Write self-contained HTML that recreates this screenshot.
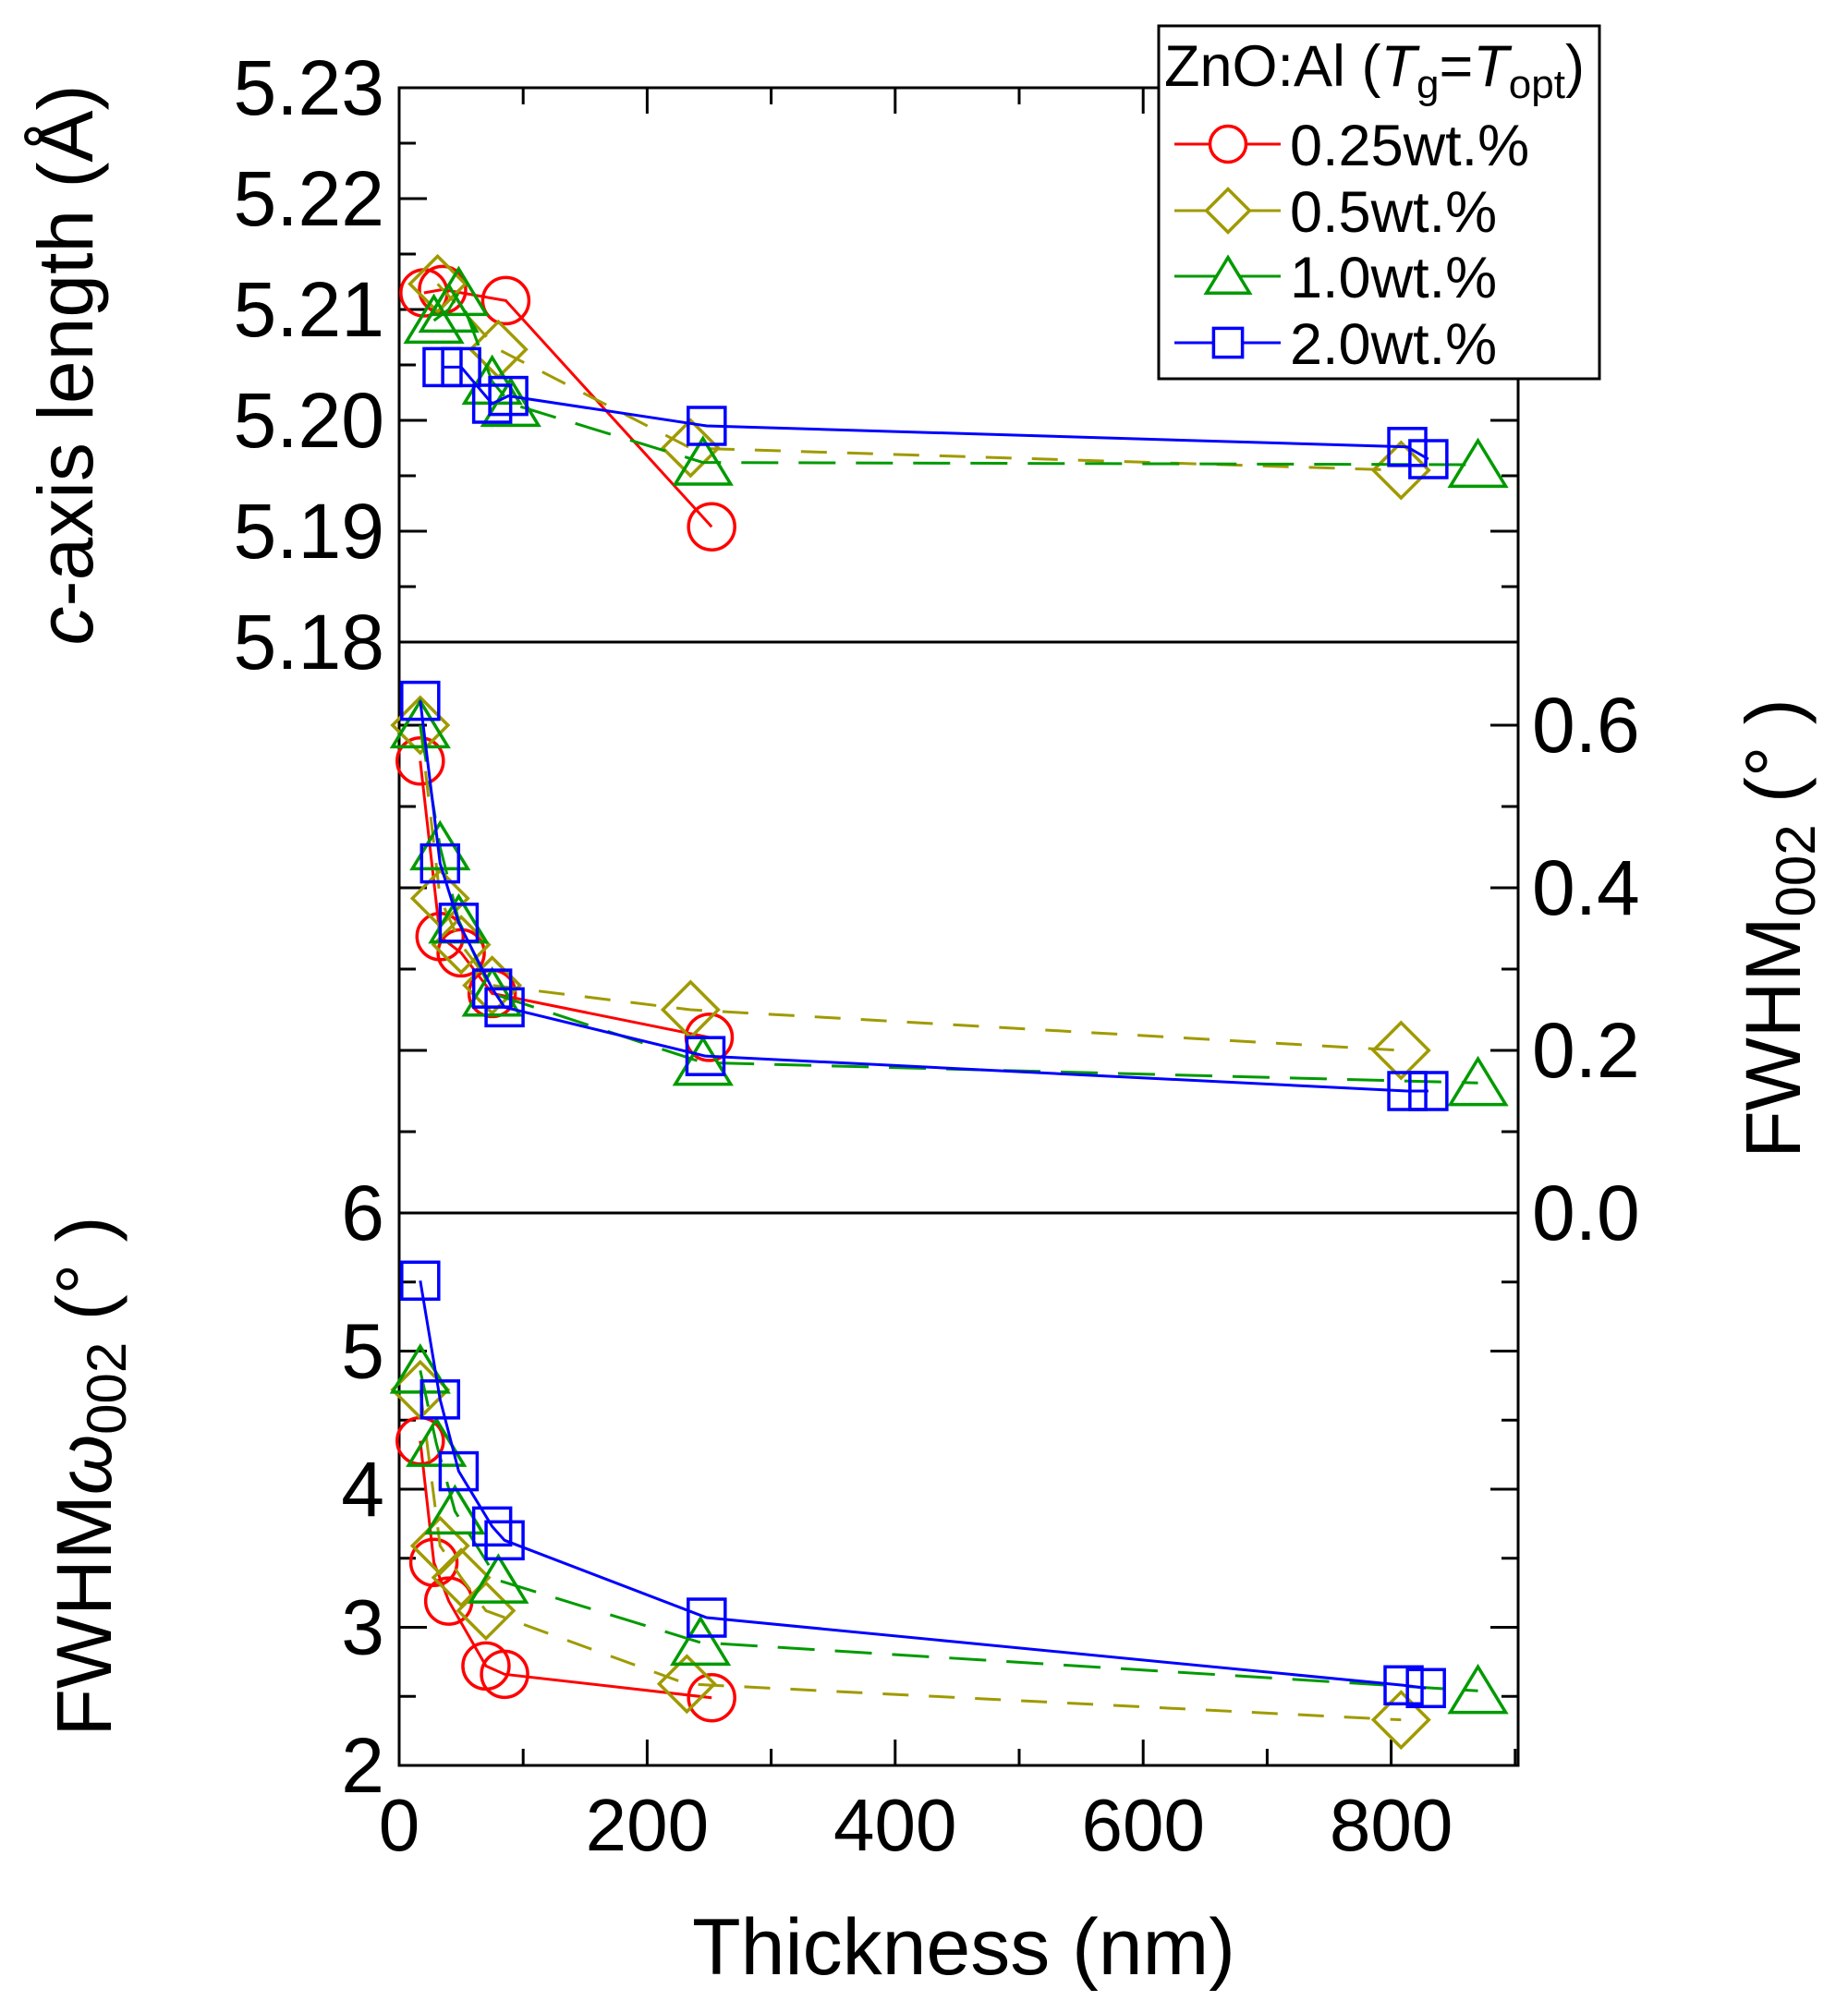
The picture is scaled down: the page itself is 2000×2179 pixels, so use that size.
<!DOCTYPE html>
<html><head><meta charset="utf-8"><style>
html,body{margin:0;padding:0;background:#fff;}
svg{display:block;font-family:"Liberation Sans",Arial,sans-serif;}
</style></head><body>
<svg id="chart" width="2000" height="2179" viewBox="0 0 2000 2179" xmlns="http://www.w3.org/2000/svg">
<g id="axes"></g>
<g id="series"></g>
<g id="legend">
<rect x="1254" y="28" width="477" height="382" fill="#fff" stroke="#000" stroke-width="3"/>
<text x="1260" y="93" font-size="63">ZnO:Al (<tspan font-style="italic">T</tspan><tspan font-size="44" dy="13">g</tspan><tspan dy="-13">=</tspan><tspan font-style="italic">T</tspan><tspan font-size="44" dy="13">opt</tspan><tspan dy="-13">)</tspan></text>
</g>
</svg>
<script>
const xThick = {
  r:[20,35,86,252],
  o:[31,80,235,808],
  g:[28,40,48,75,90,245,870],
  b:[35,50,75,88,248,813,830]
};
const cAxisRed=[5.2115,5.2118,5.2108,5.1904];
const cAxisOlive=[5.2123,5.2064,5.1975,5.1955];
const cAxisGreen=[5.2090,5.2100,5.2115,5.2035,5.2015,5.1962,5.1960];
const cAxisBlue=[5.2048,5.2048,5.2015,5.2022,5.1995,5.1976,5.1965];

const midXRed=[17,33,50,75,250];
const midRed=[0.556,0.34,0.32,0.27,0.216];
const midXOlive=[17,33,50,75,235,808];
const midOlive=[0.60,0.387,0.33,0.28,0.25,0.20];
const midXGreen=[17,33,48,75,245,870];
const midGreen=[0.60,0.45,0.36,0.27,0.185,0.16];
const midXBlue=[17,33,48,75,85,247,813,830];
const midBlue=[0.63,0.43,0.357,0.276,0.253,0.193,0.15,0.15];

const botXRed=[17,28,40,70,85,252];
const botRed=[4.35,3.47,3.19,2.72,2.66,2.49];
const botXOlive=[17,33,50,70,232,808];
const botOlive=[4.72,3.59,3.36,3.12,2.59,2.33];
const botXGreen=[17,30,45,80,243,870];
const botGreen=[4.86,4.33,3.84,3.34,2.89,2.54];
const botXBlue=[17,33,48,75,85,248,810,828];
const botBlue=[5.51,4.65,4.13,3.73,3.63,3.07,2.58,2.56];

const xTicks=[0,200,400,600,800];
const topTicks=["5.18","5.19","5.20","5.21","5.22","5.23"];
const midTicks=["0.0","0.2","0.4","0.6"];
const botTicks=["2","3","4","5","6"];
const legendLabels=["0.25wt.%","0.5wt.%","1.0wt.%","2.0wt.%"];

const NS="http://www.w3.org/2000/svg";
const X0=432,X1=1643;
const xS=v=>X0+v*1.342;
const yTop=v=>695-(v-5.18)*12000;
const yMid=v=>1313-v*880;
const yBot=v=>1911-(v-2)*149.5;
function mk(tag,attrs,parent){const e=document.createElementNS(NS,tag);for(const k in attrs)e.setAttribute(k,attrs[k]);parent.appendChild(e);return e;}
const ax=document.getElementById('axes');
const se=document.getElementById('series');
const lg=document.getElementById('legend');
let f=mk('rect',{x:X0,y:95,width:X1-X0,height:1911-95,fill:'none',stroke:'#000','stroke-width':3},ax);

[695,1313].forEach(y=>{let l=mk('line',{x1:X0,x2:X1,y1:y,y2:y,stroke:'#000','stroke-width':3},ax);

});
for(let v=0;v<=900;v+=100){const major=v%200===0;const L=major?28:18;
 [[1911,-1],[95,1]].forEach(([y,d])=>{let t=mk('line',{x1:xS(v),x2:xS(v),y1:y,y2:y+d*L,stroke:'#000','stroke-width':3},ax);
 
 });}
xTicks.forEach(v=>{let t=mk('text',{x:xS(v),y:2003,'font-size':80,'text-anchor':'middle'},ax);t.textContent=v;

});
for(let i=0;i<=10;i++){const v=5.18+i*0.005;const major=i%2===0;const L=major?30:18;
 [[X0,1],[X1,-1]].forEach(([x,d])=>{let t=mk('line',{x1:x,x2:x+d*L,y1:yTop(v),y2:yTop(v),stroke:'#000','stroke-width':3},ax);
 
 });}
topTicks.forEach(s=>{let t=mk('text',{x:416,y:yTop(+s)+29,'font-size':84,'text-anchor':'end'},ax);t.textContent=s;

});
for(let i=0;i<=6;i++){const v=i*0.1;const L=i%2===0?30:18;
 [[X0,1],[X1,-1]].forEach(([x,d])=>{let t=mk('line',{x1:x,x2:x+d*L,y1:yMid(v),y2:yMid(v),stroke:'#000','stroke-width':3},ax);
 
 });}
midTicks.forEach(s=>{let t=mk('text',{x:1658,y:yMid(+s)+29,'font-size':84},ax);t.textContent=s;

});
for(let i=0;i<=8;i++){const v=2+i*0.5;const L=i%2===0?30:18;
 [[X0,1],[X1,-1]].forEach(([x,d])=>{let t=mk('line',{x1:x,x2:x+d*L,y1:yBot(v),y2:yBot(v),stroke:'#000','stroke-width':3},ax);
 
 });}
botTicks.forEach(s=>{let t=mk('text',{x:416,y:yBot(+s)+29,'font-size':84,'text-anchor':'end'},ax);t.textContent=s;

});
let tt=mk('text',{x:1043,y:2137,'font-size':86,'text-anchor':'middle'},ax);tt.textContent='Thickness (nm)';

let t1=mk('text',{transform:'translate(100,395) rotate(-90)','font-size':84,'text-anchor':'middle'},ax);
t1.innerHTML='<tspan font-style="italic">c</tspan>-axis length (Å)';

let t2=mk('text',{transform:'translate(1948,1005) rotate(-90)','font-size':84,'text-anchor':'middle'},ax);
t2.innerHTML='FWHM<tspan font-size="60" dy="16">002</tspan><tspan dy="-16"> (° )</tspan>';

let t3=mk('text',{transform:'translate(120,1598) rotate(-90)','font-size':84,'text-anchor':'middle'},ax);
t3.innerHTML='FWHM<tspan font-style="italic">ω</tspan><tspan font-size="60" dy="16">002</tspan><tspan dy="-16"> (° )</tspan>';


const styles={
 r:{c:'#ff0000',dash:'',m:'circle'},
 o:{c:'#a09a00',dash:'28,22',m:'diamond'},
 g:{c:'#009a00',dash:'40,22',m:'triangle'},
 b:{c:'#0000ff',dash:'',m:'square'}
};
function marker(kind,x,y,c,p,s){
 s=s||1;let e;
 if(kind==='circle')e=mk('circle',{cx:x,cy:y,r:25*s},p);
 else if(kind==='square')e=mk('rect',{x:x-20*s,y:y-20*s,width:40*s,height:40*s},p);
 else if(kind==='diamond'){const d=30*s;e=mk('polygon',{points:`${x},${y-d} ${x+d},${y} ${x},${y+d} ${x-d},${y}`},p);}
 else {const w=30*s,h=26*s;e=mk('polygon',{points:`${x},${y-h} ${x+w},${y+h*0.9} ${x-w},${y+h*0.9}`},p);}
 e.setAttribute('fill','none');e.setAttribute('stroke',c);e.setAttribute('stroke-width',3.5);
 return e;
}
function series(key,xs,ys,yf,panel){
 const st=styles[key];
 const pts=xs.map((x,i)=>[xS(x),yf(ys[i])]);
 let pl=mk('polyline',{points:pts.map(p=>p.join(',')).join(' '),fill:'none',stroke:st.c,'stroke-width':3},se);
 if(st.dash)pl.setAttribute('stroke-dasharray',st.dash);
 
 
 pts.forEach(p=>{let m=marker(st.m,p[0],p[1],st.c,se);
 
 });
}
series('r',xThick.r,cAxisRed,yTop,'top');
series('o',xThick.o,cAxisOlive,yTop,'top');
series('g',xThick.g,cAxisGreen,yTop,'top');
series('b',xThick.b,cAxisBlue,yTop,'top');
series('r',midXRed,midRed,yMid,'mid');
series('o',midXOlive,midOlive,yMid,'mid');
series('g',midXGreen,midGreen,yMid,'mid');
series('b',midXBlue,midBlue,yMid,'mid');
series('r',botXRed,botRed,yBot,'bottom');
series('o',botXOlive,botOlive,yBot,'bottom');
series('g',botXGreen,botGreen,yBot,'bottom');
series('b',botXBlue,botBlue,yBot,'bottom');
const lkeys=['r','o','g','b'];const lys=[156,228,299,371];
lkeys.forEach((k,i)=>{const st=styles[k];const y=lys[i];
 let l=mk('line',{x1:1271,x2:1386,y1:y,y2:y,stroke:st.c,'stroke-width':3},lg);
 
 
 let m=marker(st.m,1329,y,st.c,lg,0.78);m.setAttribute('fill','#fff');
 
 
 let t=mk('text',{x:1396,y:y+23,'font-size':63},lg);t.textContent=legendLabels[i];
 
 
});
</script>
</body></html>
